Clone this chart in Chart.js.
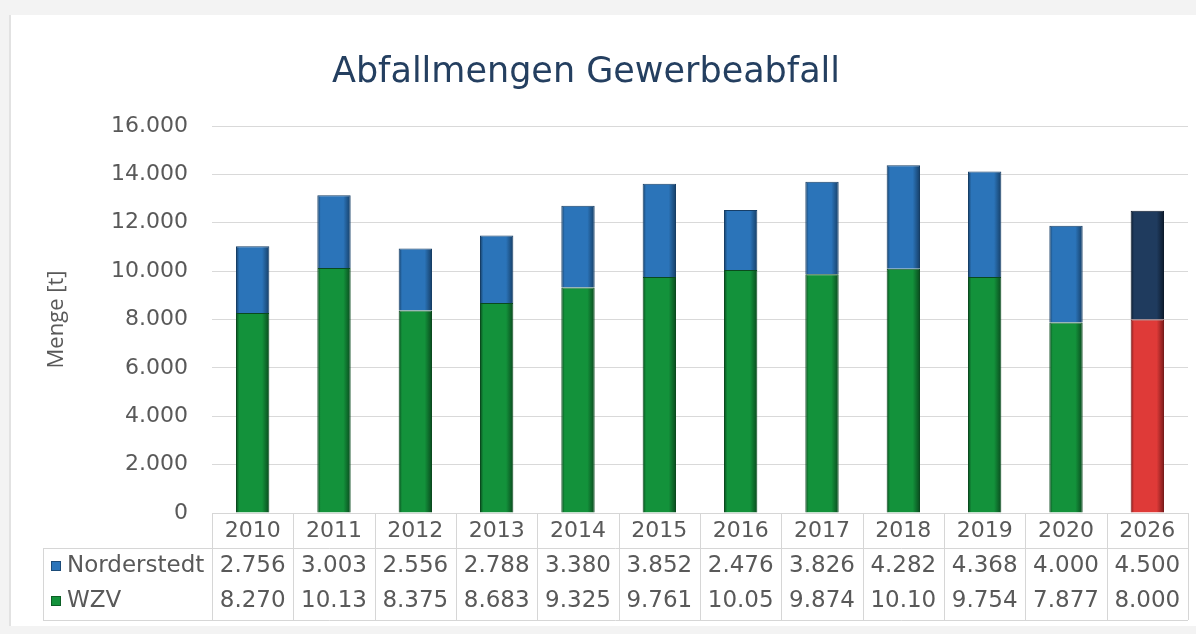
<!DOCTYPE html>
<html>
<head>
<meta charset="utf-8">
<script src="https://cdn.jsdelivr.net/npm/chart.js@4"></script>
<style>
    html, body { margin: 0; padding: 0; background: #f3f3f3; }
    #wrap { width: 1196px; height: 634px; position: relative; }
</style>
</head>
<body>
<div id="wrap"><canvas id="waste-chart" width="1196" height="634"></canvas></div>
<script>
// Jahre (Kategorien)
const years = ['2010', '2011', '2012', '2013', '2014', '2015', '2016', '2017', '2018', '2019', '2020', '2026'];

// Mengen in Tonnen
const wzv = [8270, 10130, 8375, 8683, 9325, 9761, 10050, 9874, 10100, 9754, 7877, 8000];
const norderstedt = [2756, 3003, 2556, 2788, 3380, 3852, 2476, 3826, 4282, 4368, 4000, 4500];

// y-Achse
const yTicks = [0, 2000, 4000, 6000, 8000, 10000, 12000, 14000, 16000];

const chartTitle = 'Abfallmengen Gewerbeabfall';
const textColor = '#595959';
const fontFamily = '"DejaVu Sans", Verdana, sans-serif';
const barPct = 0.41;

// Farben - 2026 ist Prognose und anders eingefärbt
const wzvColors = years.map(y => y === '2026' ? '#df3a38' : '#13923b');
const wzvShadows = years.map(y => y === '2026' ? '#7a1a1a' : '#0a4a1e');
const nordColors = years.map(y => y === '2026' ? '#1f3b5e' : '#2b74b9');
const nordShadows = years.map(y => y === '2026' ? '#0c1a2c' : '#163e66');

// deutsches Zahlenformat, wie in der Excel-Datentabelle auf 5 Zeichen gekürzt
function formatDe(v) {
    return String(Math.round(v)).replace(/\B(?=(\d{3})+(?!\d))/g, '.');
}
function formatCell(v) {
    return formatDe(v).slice(0, 5);
}

// leichter 3D-Effekt: Verlauf quer über den Balken
function bevel(colors, shadows) {
    return context => {
        const chart = context.chart;
        const x = chart.scales.x;
        if (!x || !chart.chartArea) return colors[context.dataIndex];
        const cx = x.getPixelForValue(context.dataIndex);
        const w = (chart.chartArea.right - chart.chartArea.left) / years.length * barPct;
        const g = chart.ctx.createLinearGradient(cx - w / 2, 0, cx + w / 2, 0);
        g.addColorStop(0, shadows[context.dataIndex]);
        g.addColorStop(0.1, colors[context.dataIndex]);
        g.addColorStop(0.78, colors[context.dataIndex]);
        g.addColorStop(1, shadows[context.dataIndex]);
        return g;
    };
}

// Hintergrund mit Karte + Titel
const cardPlugin = {
    id: 'card',
    beforeDraw(chart) {
        const ctx = chart.ctx;
        ctx.save();
        ctx.fillStyle = '#f3f3f3';
        ctx.fillRect(0, 0, chart.width, chart.height);
        ctx.fillStyle = '#ffffff';
        ctx.fillRect(9, 15, chart.width - 9, 611);
        ctx.fillStyle = '#e2e2e2';
        ctx.fillRect(9, 15, 2, 611);

        ctx.fillStyle = '#243f60';
        ctx.font = '35px ' + fontFamily;
        ctx.textAlign = 'center';
        ctx.textBaseline = 'middle';
        ctx.fillText(chartTitle, 586, 73);
        ctx.restore();
    }
};

// Datentabelle unter dem Diagramm
const dataTablePlugin = {
    id: 'dataTable',
    afterDraw(chart) {
        const ctx = chart.ctx;
        const x = chart.scales.x;
        const area = chart.chartArea;
        const colW = (area.right - area.left) / years.length;
        const top = area.bottom;
        const mid = top + 35;
        const bottom = top + 107;
        const legendLeft = 43;

        ctx.save();
        ctx.strokeStyle = '#d6d6d6';
        ctx.lineWidth = 1;
        ctx.beginPath();
        ctx.moveTo(area.left, top + 0.5);
        ctx.lineTo(area.right, top + 0.5);
        ctx.moveTo(legendLeft, mid + 0.5);
        ctx.lineTo(area.right, mid + 0.5);
        ctx.moveTo(legendLeft, bottom + 0.5);
        ctx.lineTo(area.right, bottom + 0.5);
        for (let i = 0; i <= years.length; i++) {
            const bx = Math.round(area.left + i * colW) + 0.5;
            ctx.moveTo(bx, top);
            ctx.lineTo(bx, bottom);
        }
        ctx.moveTo(legendLeft + 0.5, mid);
        ctx.lineTo(legendLeft + 0.5, bottom);
        ctx.stroke();

        ctx.font = '23px ' + fontFamily;
        ctx.fillStyle = textColor;
        ctx.textAlign = 'center';
        ctx.textBaseline = 'middle';
        years.forEach((y, i) => {
            const cx = x.getPixelForValue(i);
            ctx.fillText(formatCell(norderstedt[i]), cx, mid + 18);
            ctx.fillText(formatCell(wzv[i]), cx, mid + 53);
        });

        // Legende
        const rows = [
            { label: 'Norderstedt', color: '#2b74b9', y: mid + 18 },
            { label: 'WZV', color: '#13923b', y: mid + 53 }
        ];
        rows.forEach(r => {
            ctx.fillStyle = r.color;
            ctx.fillRect(51, r.y - 5, 10, 10);
            ctx.strokeStyle = 'rgba(0,0,0,0.35)';
            ctx.strokeRect(51.5, r.y - 4.5, 9, 9);
            ctx.fillStyle = textColor;
            ctx.textAlign = 'left';
            ctx.fillText(r.label, 67, r.y);
        });
        ctx.restore();
    }
};

new Chart(document.querySelector('#waste-chart').getContext('2d'), {
    type: 'bar',
    data: {
        labels: years,
        datasets: [
            {
                label: 'WZV',
                data: wzv,
                backgroundColor: bevel(wzvColors, wzvShadows),
                borderColor: wzvShadows,
                borderWidth: { left: 1, right: 1, top: 1, bottom: 0 },
                borderSkipped: false
            },
            {
                label: 'Norderstedt',
                data: norderstedt,
                backgroundColor: bevel(nordColors, nordShadows),
                borderColor: nordShadows,
                borderWidth: { left: 1, right: 1, top: 1, bottom: 0 },
                borderSkipped: false
            }
        ]
    },
    options: {
        responsive: false,
        animation: false,
        layout: { padding: { top: 126, left: 44, right: 8, bottom: 14 } },
        datasets: {
            bar: { categoryPercentage: 1, barPercentage: barPct }
        },
        plugins: {
            legend: { display: false },
            tooltip: { enabled: false },
            title: { display: false }
        },
        scales: {
            x: {
                stacked: true,
                grid: { display: false, drawTicks: false },
                border: { display: false },
                ticks: {
                    color: textColor,
                    padding: 5,
                    maxRotation: 0,
                    font: { family: fontFamily, size: 22 }
                },
                afterFit(scale) { scale.height = 107; }
            },
            y: {
                stacked: true,
                min: 0,
                max: 16000,
                afterBuildTicks(scale) { scale.ticks = yTicks.map(v => ({ value: v })); },
                grid: { color: '#d9d9d9', drawTicks: false },
                border: { display: false },
                ticks: {
                    color: textColor,
                    padding: 24,
                    font: { family: fontFamily, size: 22 },
                    callback: v => formatDe(v)
                },
                title: {
                    display: true,
                    text: 'Menge [t]',
                    color: textColor,
                    font: { family: '"Open Sans", sans-serif', size: 22 },
                    padding: { top: 0, bottom: 0 }
                },
                afterFit(scale) { scale.width = 168; }
            }
        }
    },
    plugins: [cardPlugin, dataTablePlugin]
});
</script>
</body>
</html>
